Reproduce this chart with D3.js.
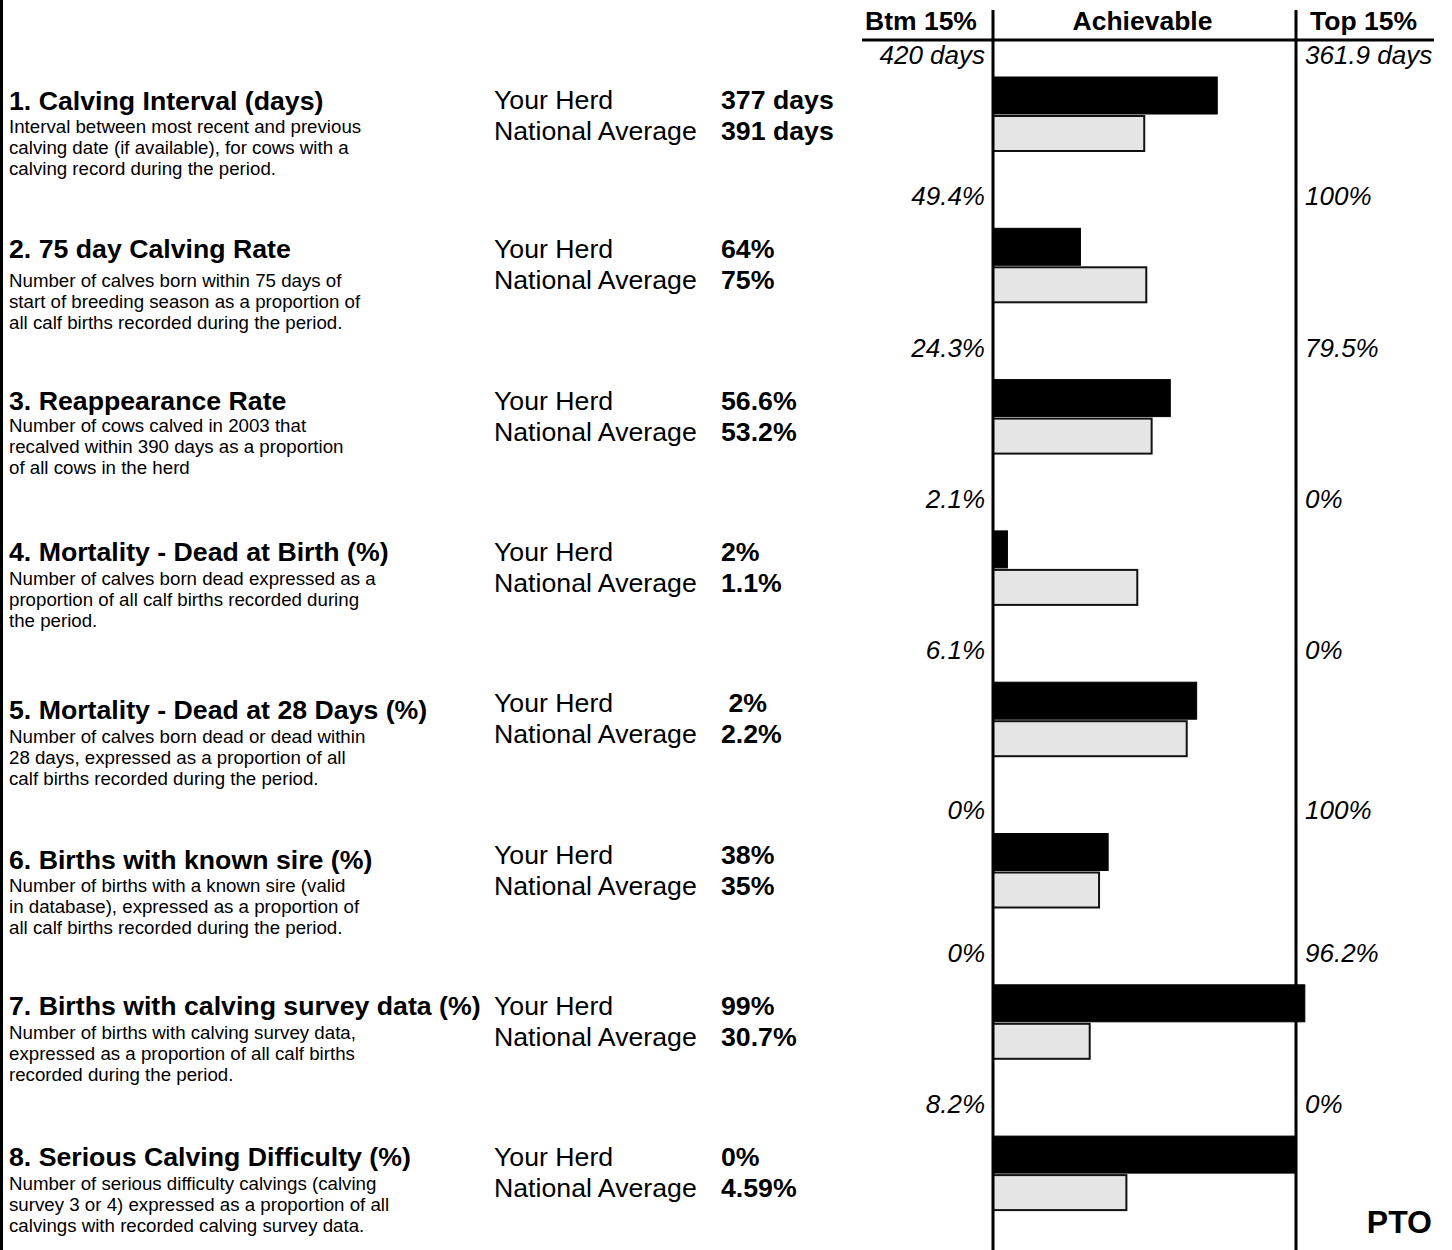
<!DOCTYPE html>
<html>
<head>
<meta charset="utf-8">
<script src="https://cdn.jsdelivr.net/npm/d3@7"></script>
<style>
  body { margin: 0; background: #fff; }
  svg { display: block; font-family: "Liberation Sans", Arial, sans-serif; }
  text { white-space: pre; }
</style>
</head>
<body>
<svg id="vis"></svg>
<script>
const width = 1452;
const height = 1250;

const titles = [
  '1. Calving Interval (days)',
  '2. 75 day Calving Rate',
  '3. Reappearance Rate',
  '4. Mortality - Dead at Birth (%)',
  '5. Mortality - Dead at 28 Days (%)',
  '6. Births with known sire (%)',
  '7. Births with calving survey data (%)',
  '8. Serious Calving Difficulty (%)'
];
const descriptions = [
  ['Interval between most recent and previous', 'calving date (if available), for cows with a', 'calving record during the period.'],
  ['Number of calves born within 75 days of', 'start of breeding season as a proportion of', 'all calf births recorded during the period.'],
  ['Number of cows calved in 2003 that', 'recalved within 390 days as a proportion', 'of all cows in the herd'],
  ['Number of calves born dead expressed as a', 'proportion of all calf births recorded during', 'the period.'],
  ['Number of calves born dead or dead within', '28 days, expressed as a proportion of all', 'calf births recorded during the period.'],
  ['Number of births with a known sire (valid', 'in database), expressed as a proportion of', 'all calf births recorded during the period.'],
  ['Number of births with calving survey data,', 'expressed as a proportion of all calf births', 'recorded during the period.'],
  ['Number of serious difficulty calvings (calving', 'survey 3 or 4) expressed as a proportion of all', 'calvings with recorded calving survey data.']
];
const herdValues = [377, 64, 56.6, 2, 2, 38, 99, 0];
const nationalValues = [391, 75, 53.2, 1.1, 2.2, 35, 30.7, 4.59];
const herdLabels = ['377 days', '64%', '56.6%', '2%', ' 2%', '38%', '99%', '0%'];
const nationalLabels = ['391 days', '75%', '53.2%', '1.1%', '2.2%', '35%', '30.7%', '4.59%'];
const bottomValues = [420, 49.4, 24.3, 2.1, 6.1, 0, 0, 8.2];
const topValues = [361.9, 100, 79.5, 0, 0, 100, 96.2, 0];
const bottomLabels = ['420 days', '49.4%', '24.3%', '2.1%', '6.1%', '0%', '0%', '8.2%'];
const topLabels = ['361.9 days', '100%', '79.5%', '0%', '0%', '100%', '96.2%', '0%'];
const headers = ['Btm 15%', 'Achievable', 'Top 15%'];

// small per-row layout nudges (the source form is not perfectly regular)
const titleShift = [3, 0, 0, 0, 7, 5, 0, 0];
const descShift = [2, 5, -2, 0, 7, 4, 0, 0];
const benchShift = [0, 0, 0, 0, 0, 8, 0, 0];

const x0 = 993, x1 = 1296;
const rowY = d3.scaleLinear().domain([0, 7]).range([77, 77 + 151.3 * 7]);
const rows = titles.map((t, i) => ({
  i, title: t, desc: descriptions[i],
  herd: herdValues[i], nat: nationalValues[i],
  herdLabel: herdLabels[i], natLabel: nationalLabels[i],
  btmLabel: bottomLabels[i], topLabel: topLabels[i],
  x: d3.scaleLinear().domain([bottomValues[i], topValues[i]]).range([x0, x1])
}));

const svg = d3.select('#vis').attr('width', width).attr('height', height);

// frame lines
svg.append('line').attr('x1', 1.5).attr('x2', 1.5).attr('y1', 0).attr('y2', height)
  .attr('stroke', '#000').attr('stroke-width', 3);
svg.append('line').attr('x1', 862).attr('x2', 1434).attr('y1', 40).attr('y2', 40)
  .attr('stroke', '#000').attr('stroke-width', 3);

// header
const hdr = svg.append('g').style('font-weight', 'bold').style('font-size', '26.5px');
hdr.append('text').attr('x', 865).attr('y', 30).text(headers[0]);
hdr.append('text').attr('x', (x0 + x1) / 2 - 2).attr('y', 30).attr('text-anchor', 'middle').text(headers[1]);
hdr.append('text').attr('x', 1310).attr('y', 30).text(headers[2]);

const row = svg.selectAll('g.row').data(rows).enter().append('g')
  .attr('class', 'row')
  .attr('transform', d => `translate(0,${rowY(d.i)})`);

// bars
row.append('rect')
  .attr('x', d => Math.min(x0, d.x(d.herd)))
  .attr('y', 0)
  .attr('width', d => Math.max(1, Math.abs(d.x(d.herd) - x0)))
  .attr('height', 37)
  .attr('fill', '#000').attr('stroke', '#000').attr('stroke-width', 1);
row.append('rect')
  .attr('x', x0)
  .attr('y', 39)
  .attr('width', d => d.x(d.nat) - x0)
  .attr('height', 35)
  .attr('fill', '#e5e5e5').attr('stroke', '#111').attr('stroke-width', 2);

// benchmark labels
const benchY = d => Math.max(-23, 64 - rowY(d.i)) + benchShift[d.i];
row.append('text')
  .attr('x', 985).attr('y', benchY)
  .attr('text-anchor', 'end')
  .style('font-style', 'italic').style('font-size', '26px')
  .text(d => d.btmLabel);
row.append('text')
  .attr('x', 1305).attr('y', benchY)
  .style('font-style', 'italic').style('font-size', '26px')
  .text(d => d.topLabel);

// left text
row.append('text')
  .attr('x', 9).attr('y', d => 30 + titleShift[d.i])
  .style('font-weight', 'bold').style('font-size', '26.7px')
  .text(d => d.title);
row.append('text')
  .attr('x', 9).attr('y', d => 54 + descShift[d.i])
  .style('font-size', '18.7px')
  .selectAll('tspan').data(d => d.desc).enter().append('tspan')
  .attr('x', 9).attr('dy', (d, j) => j === 0 ? 0 : 21)
  .text(d => d);

row.append('text').attr('x', 494).attr('y', d => 30 + (d.i === 0 ? 2 : 0))
  .style('font-size', '26.7px').text('Your Herd');
row.append('text').attr('x', 494).attr('y', d => 61 + (d.i === 0 ? 2 : 0))
  .style('font-size', '26.7px').text('National Average');
row.append('text').attr('x', 721).attr('y', d => 30 + (d.i === 0 ? 2 : 0))
  .style('font-weight', 'bold').style('font-size', '26.7px').text(d => d.herdLabel);
row.append('text').attr('x', 721).attr('y', d => 61 + (d.i === 0 ? 2 : 0))
  .style('font-weight', 'bold').style('font-size', '26.7px').text(d => d.natLabel);

// vertical guide lines
[x0, x1].forEach(x => {
  svg.append('line').attr('x1', x).attr('x2', x).attr('y1', 10).attr('y2', height)
    .attr('stroke', '#000').attr('stroke-width', 3);
});

svg.append('text').attr('x', 1432).attr('y', 1233).attr('text-anchor', 'end')
  .style('font-weight', 'bold').style('font-size', '32px').text('PTO');
</script>
</body>
</html>
